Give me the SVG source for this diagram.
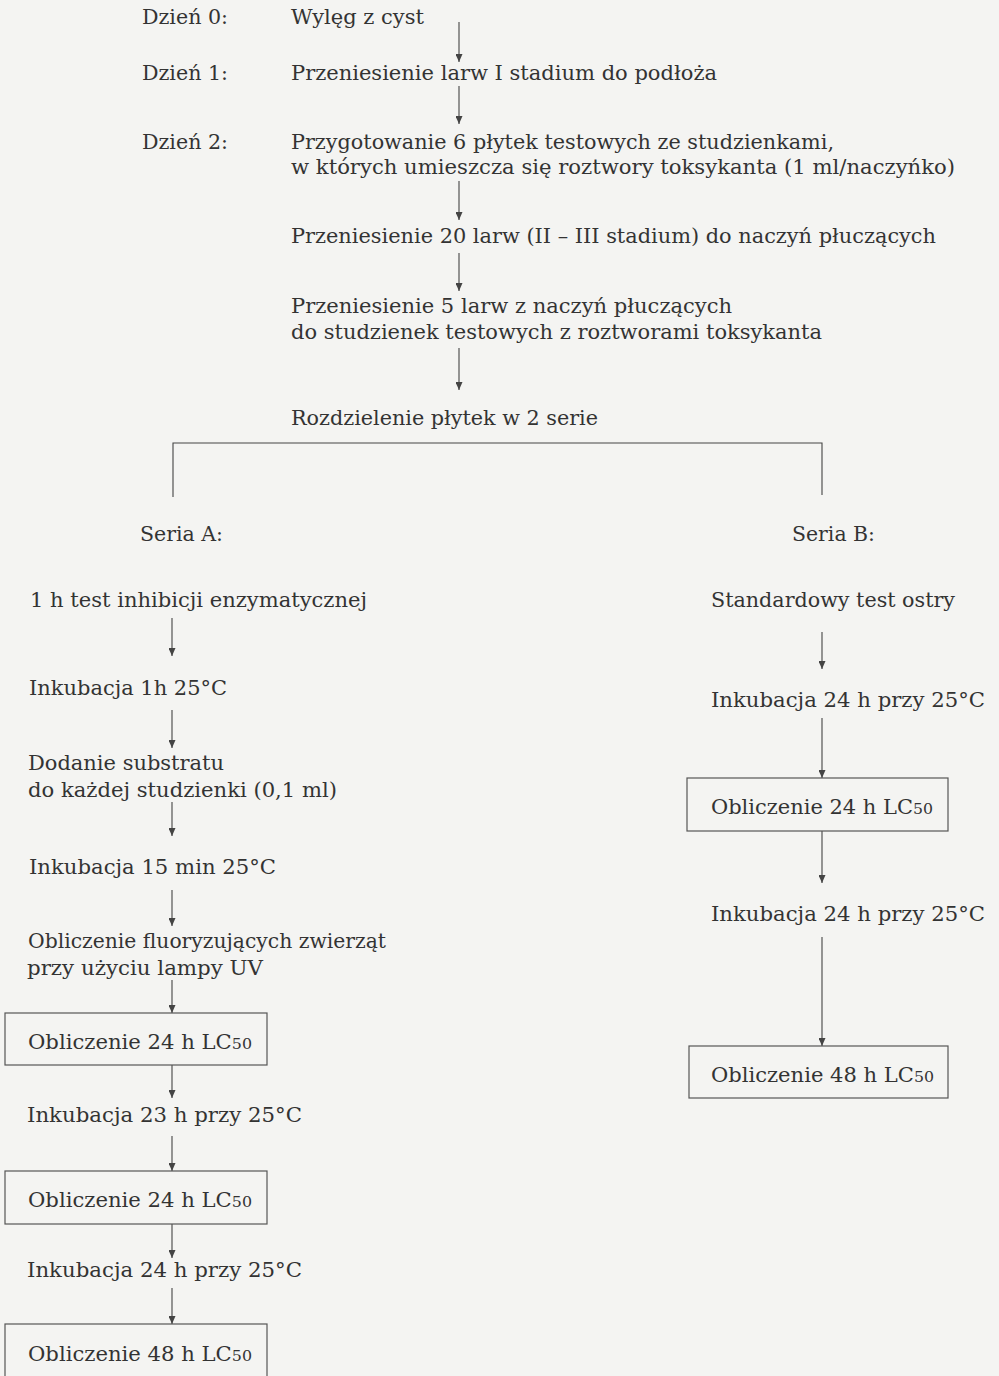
<svg xmlns="http://www.w3.org/2000/svg" width="999" height="1376" viewBox="0 0 999 1376">
<defs>
<style>
.c{font-family:"DejaVu Serif","Liberation Serif",serif;font-size:20px;fill:#333}
.sub{font-size:15px}
.box{fill:none;stroke:#555;stroke-width:1.2}
.ln{fill:none;stroke:#444;stroke-width:1.1}
.ar{fill:none;stroke:#444;stroke-width:1.1;marker-end:url(#ah)}
</style>
<marker id="ah" markerUnits="userSpaceOnUse" markerWidth="8" markerHeight="7" refX="8" refY="3.5" orient="auto" viewBox="0 0 8 7">
<path d="M0,0 L8,3.5 L0,7 Z" fill="#444"/>
</marker>
</defs>
<rect x="0" y="0" width="999" height="1376" fill="#f4f4f2"/>

<g id="connectors">
<line class="ar" x1="459" y1="22" x2="459" y2="62"/>
<line class="ar" x1="459" y1="86" x2="459" y2="124"/>
<line class="ar" x1="459" y1="181" x2="459" y2="220"/>
<line class="ar" x1="459" y1="253" x2="459" y2="291"/>
<line class="ar" x1="459" y1="348" x2="459" y2="390"/>
<polyline class="ln" points="173,497 173,443 822,443 822,495"/>
<line class="ar" x1="172" y1="618" x2="172" y2="656"/>
<line class="ar" x1="172" y1="710" x2="172" y2="748"/>
<line class="ar" x1="172" y1="802" x2="172" y2="836"/>
<line class="ar" x1="172" y1="890" x2="172" y2="926"/>
<line class="ar" x1="172" y1="980" x2="172" y2="1013"/>
<line class="ar" x1="172" y1="1065" x2="172" y2="1098"/>
<line class="ar" x1="172" y1="1136" x2="172" y2="1171"/>
<line class="ar" x1="172" y1="1224" x2="172" y2="1258"/>
<line class="ar" x1="172" y1="1288" x2="172" y2="1324"/>
<line class="ar" x1="822" y1="632" x2="822" y2="669"/>
<line class="ar" x1="822" y1="718" x2="822" y2="778"/>
<line class="ar" x1="822" y1="831" x2="822" y2="883"/>
<line class="ar" x1="822" y1="937" x2="822" y2="1046"/>
</g>

<g id="day0"><text class="c" x="142" y="24" textLength="86" lengthAdjust="spacingAndGlyphs">Dzień 0:</text><text class="c" x="291" y="24" textLength="133" lengthAdjust="spacingAndGlyphs">Wylęg z cyst</text></g>
<g id="day1"><text class="c" x="142" y="80" textLength="86" lengthAdjust="spacingAndGlyphs">Dzień 1:</text><text class="c" x="291" y="80" textLength="426" lengthAdjust="spacingAndGlyphs">Przeniesienie larw I stadium do podłoża</text></g>
<g id="day2"><text class="c" x="142" y="149" textLength="86" lengthAdjust="spacingAndGlyphs">Dzień 2:</text>
<text class="c" x="291" y="149" textLength="543" lengthAdjust="spacingAndGlyphs">Przygotowanie 6 płytek testowych ze studzienkami,</text>
<text class="c" x="291" y="174" textLength="664" lengthAdjust="spacingAndGlyphs">w których umieszcza się roztwory toksykanta (1 ml/naczyńko)</text></g>
<g id="transfer20"><text class="c" x="291" y="243" textLength="645" lengthAdjust="spacingAndGlyphs">Przeniesienie 20 larw (II – III stadium) do naczyń płuczących</text></g>
<g id="transfer5"><text class="c" x="291" y="313" textLength="441" lengthAdjust="spacingAndGlyphs">Przeniesienie 5 larw z naczyń płuczących</text>
<text class="c" x="291" y="339" textLength="531" lengthAdjust="spacingAndGlyphs">do studzienek testowych z roztworami toksykanta</text></g>
<g id="split"><text class="c" x="291" y="425" textLength="307" lengthAdjust="spacingAndGlyphs">Rozdzielenie płytek w 2 serie</text></g>
<g id="seriaA"><text class="c" x="140" y="541" textLength="83" lengthAdjust="spacingAndGlyphs">Seria A:</text></g>
<g id="seriaB"><text class="c" x="792" y="541" textLength="83" lengthAdjust="spacingAndGlyphs">Seria B:</text></g>

<g id="a1"><text class="c" x="30" y="607" textLength="337" lengthAdjust="spacingAndGlyphs">1 h test inhibicji enzymatycznej</text></g>
<g id="a2"><text class="c" x="29" y="695" textLength="198" lengthAdjust="spacingAndGlyphs">Inkubacja 1h 25°C</text></g>
<g id="a3"><text class="c" x="28" y="770" textLength="196" lengthAdjust="spacingAndGlyphs">Dodanie substratu</text>
<text class="c" x="28" y="797" textLength="309" lengthAdjust="spacingAndGlyphs">do każdej studzienki (0,1 ml)</text></g>
<g id="a4"><text class="c" x="29" y="874" textLength="247" lengthAdjust="spacingAndGlyphs">Inkubacja 15 min 25°C</text></g>
<g id="a5"><text class="c" x="28" y="948" textLength="358" lengthAdjust="spacingAndGlyphs">Obliczenie fluoryzujących zwierząt</text>
<text class="c" x="27" y="975" textLength="236" lengthAdjust="spacingAndGlyphs">przy użyciu lampy UV</text></g>
<g id="a6"><rect class="box" x="5" y="1013" width="262" height="52"/>
<text class="c" x="28" y="1049" textLength="224" lengthAdjust="spacingAndGlyphs">Obliczenie 24 h LC<tspan class="sub">50</tspan></text></g>
<g id="a7"><text class="c" x="27" y="1122" textLength="275" lengthAdjust="spacingAndGlyphs">Inkubacja 23 h przy 25°C</text></g>
<g id="a8"><rect class="box" x="5" y="1171" width="262" height="53"/>
<text class="c" x="28" y="1207" textLength="224" lengthAdjust="spacingAndGlyphs">Obliczenie 24 h LC<tspan class="sub">50</tspan></text></g>
<g id="a9"><text class="c" x="27" y="1277" textLength="275" lengthAdjust="spacingAndGlyphs">Inkubacja 24 h przy 25°C</text></g>
<g id="a10"><rect class="box" x="5" y="1324" width="262" height="60"/>
<text class="c" x="28" y="1361" textLength="224" lengthAdjust="spacingAndGlyphs">Obliczenie 48 h LC<tspan class="sub">50</tspan></text></g>

<g id="b1"><text class="c" x="711" y="607" textLength="244" lengthAdjust="spacingAndGlyphs">Standardowy test ostry</text></g>
<g id="b2"><text class="c" x="711" y="707" textLength="274" lengthAdjust="spacingAndGlyphs">Inkubacja 24 h przy 25°C</text></g>
<g id="b3"><rect class="box" x="687" y="778" width="261" height="53"/>
<text class="c" x="711" y="814" textLength="222" lengthAdjust="spacingAndGlyphs">Obliczenie 24 h LC<tspan class="sub">50</tspan></text></g>
<g id="b4"><text class="c" x="711" y="921" textLength="274" lengthAdjust="spacingAndGlyphs">Inkubacja 24 h przy 25°C</text></g>
<g id="b5"><rect class="box" x="689" y="1046" width="259" height="52"/>
<text class="c" x="711" y="1082" textLength="223" lengthAdjust="spacingAndGlyphs">Obliczenie 48 h LC<tspan class="sub">50</tspan></text></g>
</svg>
